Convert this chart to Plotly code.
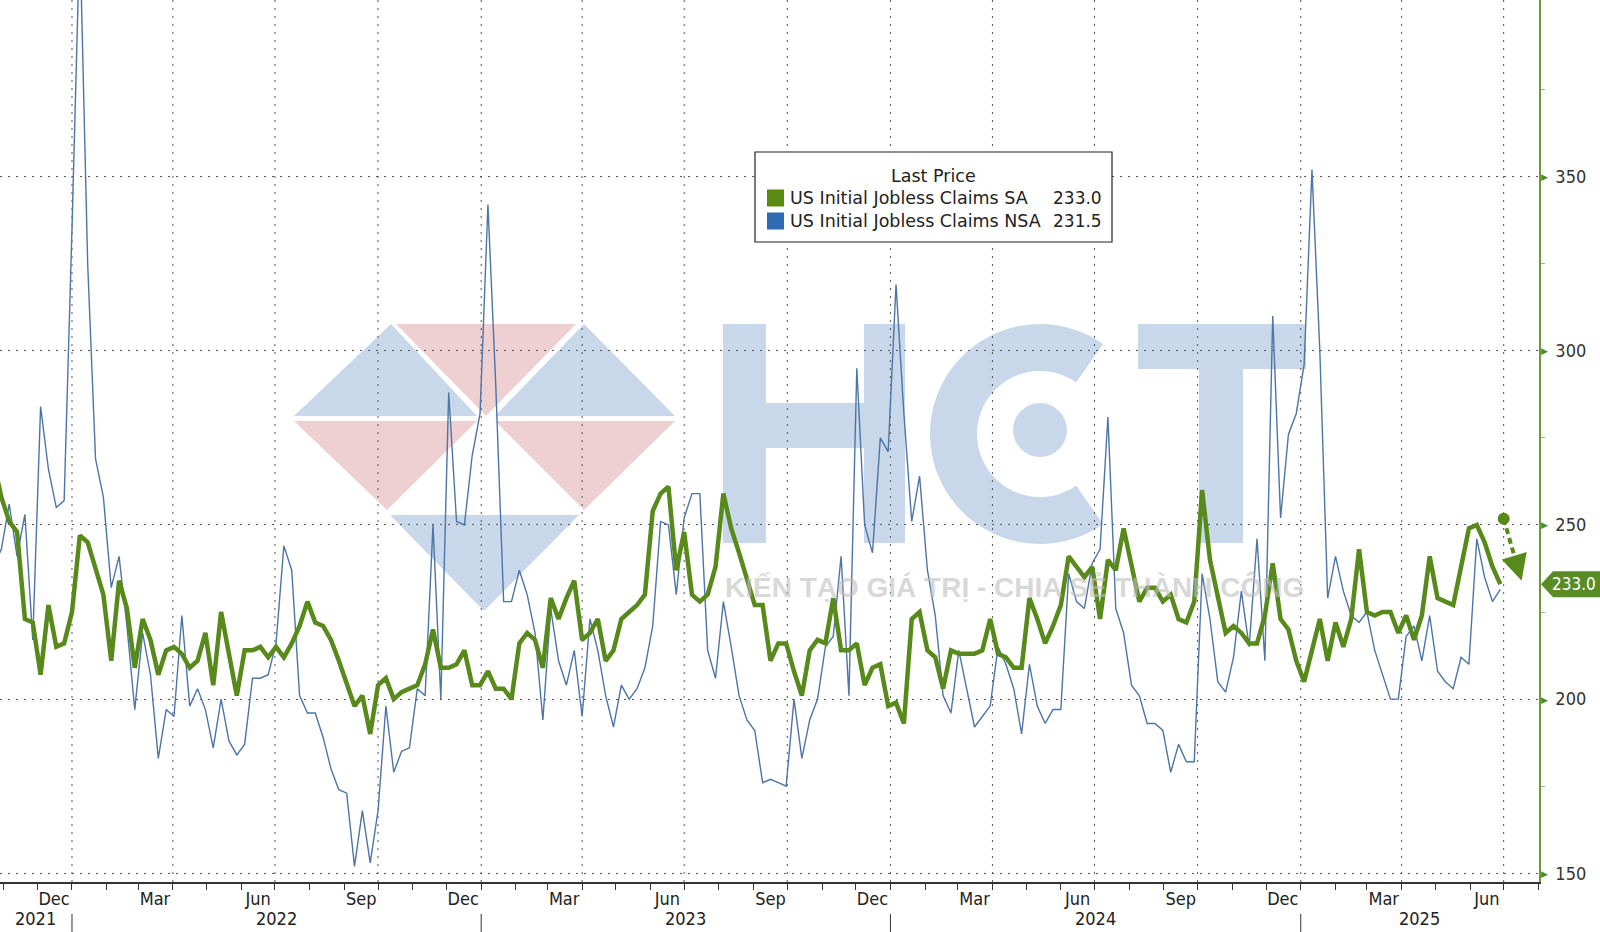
import pandas as pd
import numpy as np
import plotly.graph_objects as go

# ---------------- data (weekly, thousands) ----------------
sa = [268, 258, 251, 248, 223, 222, 207, 227, 215, 216,
      225, 247, 245, 238, 230, 211, 234, 226, 209, 223,
      217, 207, 214, 215, 213, 209, 211, 219, 204, 225,
      213, 201, 214, 214, 215, 212, 215, 212, 216, 221,
      228, 222, 221, 217, 211, 204, 198, 201, 190, 204,
      206, 200, 202, 203, 204, 210, 220, 209, 209, 210,
      214, 204, 204, 208, 203, 203, 200, 216, 219, 217,
      209, 229, 223, 229, 234, 217, 219, 223, 211, 214,
      223, 225, 227, 230, 254, 259, 261, 237, 248, 230,
      228, 230, 238, 259, 249, 242, 234, 227, 227, 211,
      216, 216, 208, 201, 214, 217, 216, 229, 214, 214,
      216, 204, 209, 210, 198, 199, 193, 223, 225, 214,
      212, 203, 214, 213, 213, 213, 214, 223, 213, 212,
      209, 209, 229, 223, 216, 221, 227, 241, 238, 235,
      238, 223, 240, 237, 249, 238, 228, 232, 232, 228,
      230, 223, 222, 228, 260, 240, 229, 219, 221, 219,
      216, 216, 224, 239, 223, 220, 211, 205, 214, 223,
      211, 222, 215, 223, 243, 225, 224, 225, 225, 219,
      224, 217, 224, 241, 229, 228, 227, 238, 249, 250,
      245, 238, 233.0]

nsa = [238, 243, 256, 241, 253, 217, 284, 266, 255, 257,
       335, 420, 325, 269, 258, 232, 241, 221, 197, 219,
       207, 183, 197, 195, 224, 198, 203, 197, 186, 200,
       188, 184, 187, 206, 206, 207, 216, 244, 237, 201,
       196, 196, 189, 180, 174, 173, 152, 168, 153, 168,
       198, 179, 185, 186, 203, 201, 250, 200, 288, 251,
       250, 270, 282, 342, 290, 228, 228, 237, 230, 219,
       194, 226, 211, 204, 214, 195, 223, 214, 201, 192,
       204, 200, 203, 209, 221, 251, 250, 230, 252, 259,
       259, 214, 206, 228, 215, 201, 194, 191, 176, 177,
       176, 175, 200, 183, 194, 200, 215, 218, 241, 201,
       295, 250, 242, 275, 271, 319, 282, 251, 264, 237,
       224, 201, 196, 214, 203, 192, 195, 198, 215, 210,
       203, 190, 210, 198, 193, 197, 197, 236, 228, 226,
       239, 243, 281, 226, 219, 204, 201, 193, 193, 191,
       179, 187, 182, 182, 236, 223, 205, 202, 212, 231,
       215, 246, 211, 310, 252, 276, 282, 296, 352, 300,
       229, 241, 231, 224, 222, 225, 214, 207, 200, 200,
       218, 221, 211, 224, 208, 205, 203, 212, 210, 246,
       235, 228, 231.5]

last_date = "2025-06-28"
series_names = ["US Initial Jobless Claims SA", "US Initial Jobless Claims NSA"]
y_ticks = [150, 200, 250, 300, 350]
y_minor = [175, 225, 275, 325, 375]
label_months = {12: "Dec", 3: "Mar", 6: "Jun", 9: "Sep"}
years = [2021, 2022, 2023, 2024, 2025]

dates = pd.date_range(end=last_date, periods=len(sa), freq="W-SAT")

# ---------------- styling ----------------
GREEN = "#578a1b"
BLUE = "#4d75a6"
W, H = 1600, 932
PW, PH = 1539, 882          # plot area size in px
X0 = pd.Timestamp("2021-10-28 19:00")
X1 = pd.Timestamp("2025-08-01 12:00")
Y0, Y1 = 147.5, 400.7
AXFONT = "Liberation Sans Narrow, Arial Narrow, DejaVu Sans Condensed, Liberation Sans, Arial"
LEGFONT = "DejaVu Sans, Verdana, sans-serif"


def pxx(x):
    return x / PW


def pyy(y):
    return 1 - y / PH


fig = go.Figure()
fig.add_trace(go.Scatter(x=dates, y=nsa, mode="lines", name=series_names[1],
                         line=dict(color=BLUE, width=1.4), showlegend=False))
fig.add_trace(go.Scatter(x=dates, y=sa, mode="lines", name=series_names[0],
                         line=dict(color=GREEN, width=4.5), showlegend=False))

shapes = []
annotations = []

# ---------- watermark (logo) ----------
WB = "#c8d8ea"
WR = "#eecfd2"


def poly(pts, color):
    d = "M " + " L ".join(f"{pxx(x):.5f},{pyy(y):.5f}" for x, y in pts) + " Z"
    return dict(type="path", xref="paper", yref="paper", path=d,
                fillcolor=color, line=dict(width=0), layer="below")


tri = [
    ([(294, 416), (391, 324), (477, 416)], WB),
    ([(396, 324), (576, 324), (486, 416)], WR),
    ([(495, 416), (584, 324), (675, 416)], WB),
    ([(294, 421), (477, 421), (387, 510)], WR),
    ([(495, 421), (675, 421), (584, 510)], WR),
    ([(390, 515), (579, 515), (484, 611)], WB),
]
for pts, c in tri:
    shapes.append(poly(pts, c))

# H and T blocks
for (a, b, c, d) in [(723, 324, 766, 543), (864, 324, 905, 543), (766, 403, 864, 448),
                     (1138, 324, 1306, 369), (1199, 369, 1243, 543)]:
    shapes.append(poly([(a, b), (c, b), (c, d), (a, d)], WB))
# C ring
cx, cy, Ro, Ri = 1040, 434, 110, 63
th = np.radians(np.linspace(55, 305, 60))
outer = [(cx + Ro * np.cos(t), cy - Ro * np.sin(t)) for t in th]
inner = [(cx + Ri * np.cos(t), cy - Ri * np.sin(t)) for t in th[::-1]]
shapes.append(poly(outer + inner, WB))
shapes.append(dict(type="circle", xref="paper", yref="paper",
                   x0=pxx(cx - 27), x1=pxx(cx + 27), y0=pyy(430 + 27), y1=pyy(430 - 27),
                   fillcolor=WB, line=dict(width=0), layer="below"))
annotations.append(dict(xref="paper", yref="paper", x=pxx(1014), y=pyy(587),
                        text="<b>KIẾN TẠO GIÁ TRỊ - CHIA SẺ THÀNH CÔNG</b>",
                        showarrow=False, font=dict(family="Liberation Sans, Arial", size=28,
                                                   color="rgba(190,190,190,0.6)")))

# ---------- vertical quarter grid ----------
qstarts = pd.date_range("2021-10-01", "2025-08-01", freq="QS")
for q in qstarts:
    if X0 <= q <= X1:
        shapes.append(dict(type="line", xref="x", yref="paper", x0=q, x1=q, y0=0, y1=1,
                           line=dict(color="#555", width=1, dash="2px,6px"), layer="below"))

# ---------- year separators & labels ----------
for yr in years:
    b = pd.Timestamp(f"{yr}-01-01")
    if X0 < b < X1:
        shapes.append(dict(type="line", xref="x", yref="paper", x0=b, x1=b,
                           y0=-(914 - PH) / PH, y1=-(940 - PH) / PH,
                           line=dict(color="#333", width=1)))
    s = max(b, X0)
    e = min(pd.Timestamp(f"{yr + 1}-01-01"), X1)
    annotations.append(dict(xref="x", yref="paper", x=s + (e - s) / 2, y=-(918 - PH) / PH,
                            text=str(yr), showarrow=False, yanchor="middle",
                            font=dict(family=AXFONT, size=18, color="#222")))

# ---------- month labels ----------
months = pd.date_range("2021-11-01", "2025-08-01", freq="MS")
lab_vals, lab_text = [], []
for m in months:
    if m.month in label_months:
        lab_vals.append(m + pd.Timedelta(days=15))
        lab_text.append(label_months[m.month])

# ---------- y-axis triangles ----------
for v in y_ticks:
    annotations.append(dict(xref="paper", yref="y", x=1, y=v, xanchor="left", xshift=0,
                            text="▶", showarrow=False,
                            font=dict(size=9, color=GREEN)))

# ---------- last value tag ----------
last = sa[-1]
hh = 13 / ((PH) / (Y1 - Y0))
xt, xa, xb = pxx(1541), pxx(1553), pxx(1600)
shapes.append(dict(type="path", xref="paper", yref="y",
                   path=f"M {xt},{last} L {xa},{last + hh} L {xb},{last + hh} L {xb},{last - hh} L {xa},{last - hh} Z",
                   fillcolor="#5a8c26", line=dict(width=0)))
annotations.append(dict(xref="paper", yref="y", x=pxx(1598), y=last, text=f"{last:.1f}",
                        xanchor="right", yanchor="middle",
                        showarrow=False, font=dict(family=AXFONT, size=17, color="white")))

# ---------- trend arrow ----------
arrow_start = (pd.Timestamp("2025-07-01"), 251.8)
arrow_mid = (pd.Timestamp("2025-07-11"), 240.5)
arrow_end = (pd.Timestamp("2025-07-17"), 234.0)
shapes.append(dict(type="line", xref="x", yref="y", x0=arrow_start[0], y0=arrow_start[1],
                   x1=arrow_mid[0], y1=arrow_mid[1], line=dict(color=GREEN, width=4, dash="6px,4px")))
shapes.append(dict(type="circle", xref="x", yref="y", xsizemode="pixel", ysizemode="pixel",
                   xanchor=arrow_start[0], yanchor=arrow_start[1], x0=-6, x1=6, y0=-6, y1=6,
                   fillcolor=GREEN, line=dict(width=0)))
annotations.append(dict(xref="x", yref="y", axref="x", ayref="y",
                        x=arrow_end[0], y=arrow_end[1], ax=arrow_mid[0], ay=arrow_mid[1],
                        text="", showarrow=True, arrowhead=2, arrowsize=1.3, arrowwidth=4,
                        arrowcolor=GREEN))

# ---------- legend box ----------
shapes.append(dict(type="rect", xref="paper", yref="paper", x0=pxx(755), x1=pxx(1112),
                   y0=pyy(242), y1=pyy(152), fillcolor="white",
                   line=dict(color="#222", width=1.2)))
annotations.append(dict(xref="paper", yref="paper", x=pxx(933), y=pyy(176), text="Last Price",
                        showarrow=False, yanchor="middle",
                        font=dict(family=LEGFONT, size=17.5, color="#222")))
rows = [(series_names[0], sa[-1], "#5a8a0f", 198), (series_names[1], nsa[-1], "#2f6bb3", 221)]
for name, val, col, yy in rows:
    shapes.append(dict(type="rect", xref="paper", yref="paper", x0=pxx(767), x1=pxx(784),
                       y0=pyy(yy + 8.5), y1=pyy(yy - 8.5), fillcolor=col, line=dict(width=0)))
    annotations.append(dict(xref="paper", yref="paper", x=pxx(788), y=pyy(yy), text=name,
                            showarrow=False, xanchor="left", yanchor="middle",
                            font=dict(family=LEGFONT, size=17.5, color="#222")))
    annotations.append(dict(xref="paper", yref="paper", x=pxx(1104), y=pyy(yy), text=f"{val:.1f}",
                            showarrow=False, xanchor="right", yanchor="middle",
                            font=dict(family=LEGFONT, size=17, color="#222")))

fig.update_layout(
    width=W, height=H,
    margin=dict(l=0, r=W - PW, t=0, b=H - PH, autoexpand=False),
    paper_bgcolor="white", plot_bgcolor="white",
    showlegend=False,
    shapes=shapes, annotations=annotations,
    xaxis=dict(range=[X0, X1], tickmode="array", tickvals=lab_vals, ticktext=lab_text,
               ticks="", showgrid=False, zeroline=False, automargin=False,
               showline=True, linecolor="#333", linewidth=1.5,
               tickfont=dict(family=AXFONT, size=18, color="#222"),
               ticklabelstandoff=0,
               minor=dict(tickmode="array", tickvals=list(months), ticks="outside",
                          ticklen=6, tickcolor="#333", tickwidth=1, showgrid=False)),
    yaxis=dict(range=[Y0, Y1], side="right", tickmode="array", tickvals=y_ticks,
               ticktext=[str(v) for v in y_ticks], ticks="", automargin=False,
               showgrid=True, gridcolor="#555", gridwidth=1, griddash="2px,6px",
               zeroline=False, showline=True, linecolor="#6a9a35", linewidth=1.5,
               tickfont=dict(family=AXFONT, size=18, color="#333"),
               ticklabelstandoff=11,
               minor=dict(tickmode="array", tickvals=y_minor, ticks="outside", ticklen=4,
                          tickcolor="#aaa", showgrid=False)),
)

fig.write_html("out.html", config={"displayModeBar": False},
               post_script="document.body.style.margin='0';document.body.style.padding='0';"
                           "document.documentElement.style.overflow='hidden';")
